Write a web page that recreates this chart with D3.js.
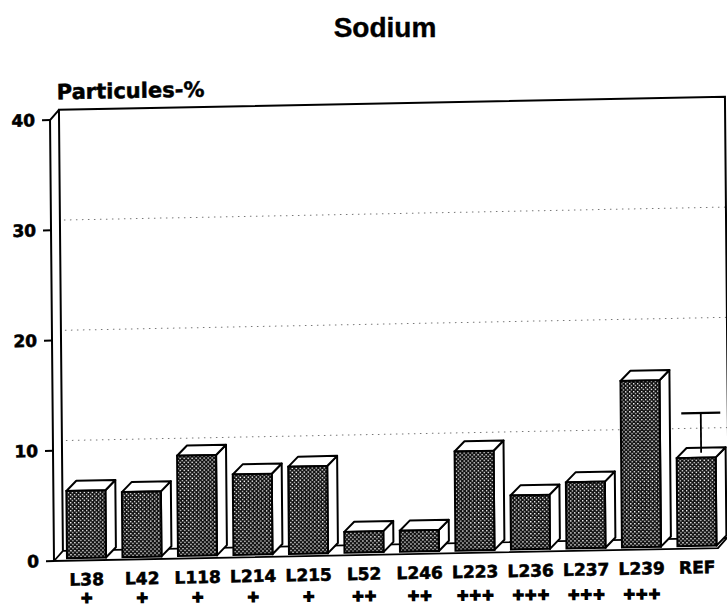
<!DOCTYPE html>
<html>
<head>
<meta charset="utf-8">
<script src="https://cdn.jsdelivr.net/npm/d3@7/dist/d3.min.js"></script>
<style>
  html, body { margin: 0; padding: 0; background: #fff; }
  svg { display: block; }
</style>
</head>
<body>
<svg id="chart" width="727" height="609"></svg>
<script>
// Sodium – share of particles per sample (3-D bar chart)
const categories = ["L38", "L42", "L118", "L214", "L215", "L52", "L246", "L223", "L236", "L237", "L239", "REF"];
const values     = [6.1, 5.9, 9.1, 7.3, 7.9, 1.9, 1.9, 9.0, 4.9, 6.0, 15.1, 8.0];
const grades     = ["+", "+", "+", "+", "+", "++", "++", "+++", "+++", "+++", "+++", ""];
const errorTop   = [null, null, null, null, null, null, null, null, null, null, null, 11.6];
const yTicks     = [0, 10, 20, 30, 40];
const gridValues = [10, 20, 30];
const titleText  = "Sodium";
const yTitle     = "Particules-%";

const svg = d3.select("#chart");

// stipple fill for the bar fronts
const defs = svg.append("defs");
const pat = defs.append("pattern")
  .attr("id", "stipple").attr("patternUnits", "userSpaceOnUse")
  .attr("width", 4).attr("height", 4);
pat.append("rect").attr("width", 4).attr("height", 4).attr("fill", "#111");
pat.append("rect").attr("x", 0.4).attr("y", 0.4).attr("width", 1.3).attr("height", 1.3).attr("fill", "#fff");
pat.append("rect").attr("x", 2.4).attr("y", 2.4).attr("width", 1.3).attr("height", 1.3).attr("fill", "#fff");

// title
svg.append("text")
  .attr("x", 385).attr("y", 37)
  .attr("text-anchor", "middle")
  .attr("font-family", "Liberation Sans, Arial, sans-serif")
  .attr("font-weight", "bold").attr("font-size", 28)
  .attr("stroke", "#000").attr("stroke-width", 0.4)
  .text(titleText);

// scales
const axisX = 54;
const x = d3.scaleBand().domain(categories).range([67, 716.5]).paddingInner(0.297).paddingOuter(0);
const y = d3.scaleLinear().domain([0, 40]).range([561, 120]);
const wall = { dx: 9, dy: -10 };
const bar = { dx: 10, dy: -10 };
const inset = 2.5;
const rightEdge = 729;

// the printed page sits slightly askew
const g = svg.append("g")
  .attr("transform", `translate(${axisX},${y(0)}) matrix(1,-0.0195,0.009,1,0,0) translate(${-axisX},${-y(0)})`);

const line = (pts) => "M" + pts.map(p => p.join(",")).join("L");

// back wall gridlines
g.append("g").selectAll("path").data(gridValues).join("path")
  .attr("d", v => line([[axisX + wall.dx + 4, y(v) + wall.dy], [rightEdge, y(v) + wall.dy]]))
  .attr("stroke", "#777").attr("stroke-width", 1)
  .attr("stroke-dasharray", "1.5,4.5").attr("fill", "none");

// back wall frame
g.append("path")
  .attr("d", line([
    [axisX + wall.dx, y(0) + wall.dy],
    [axisX + wall.dx, y(40) + wall.dy],
    [rightEdge, y(40) + wall.dy],
    [rightEdge, y(0) + wall.dy]
  ]))
  .attr("fill", "none").attr("stroke", "#000").attr("stroke-width", 2);

// front axis and its corner
g.append("path")
  .attr("d", line([[axisX, y(0)], [axisX, y(40)], [axisX + wall.dx, y(40) + wall.dy]]))
  .attr("fill", "none").attr("stroke", "#000").attr("stroke-width", 2);

// floor
const floorRight = x.range()[1] + 1.5;
g.append("path")
  .attr("d", line([
    [axisX, y(0)], [axisX + wall.dx, y(0) + wall.dy],
    [floorRight + wall.dx, y(0) + wall.dy], [floorRight, y(0)]
  ]) + "Z")
  .attr("fill", "#fff").attr("stroke", "#000").attr("stroke-width", 1.8);

// ticks and tick labels
const ticks = g.append("g");
ticks.selectAll("path").data(yTicks).join("path")
  .attr("d", v => line([[axisX - 8, y(v)], [axisX, y(v)]]))
  .attr("stroke", "#000").attr("stroke-width", 2);
ticks.selectAll("text").data(yTicks).join("text")
  .attr("x", 39).attr("y", v => y(v) + 6)
  .attr("text-anchor", "end")
  .attr("font-family", "DejaVu Sans, sans-serif")
  .attr("font-weight", "bold").attr("font-size", 17)
  .attr("stroke", "#000").attr("stroke-width", 0.6)
  .text(d => d);

// axis title
g.append("text")
  .attr("x", 61).attr("y", 99.5)
  .attr("font-family", "DejaVu Sans, sans-serif")
  .attr("font-weight", "bold").attr("font-size", 21)
  .attr("stroke", "#000").attr("stroke-width", 0.5)
  .text(yTitle);

// bars
const bw = x.bandwidth();
const rows = categories.map((c, i) => ({ c, v: values[i], e: errorTop[i] }));
const bars = g.append("g").selectAll("g").data(rows).join("g");
bars.each(function (d) {
  const sel = d3.select(this);
  const x0 = x(d.c), x1 = x0 + bw;
  const yb = y(0) - inset, yt = y(d.v) - inset;
  sel.append("path")
    .attr("d", line([[x1, yt], [x1 + bar.dx, yt + bar.dy], [x1 + bar.dx, yb + bar.dy], [x1, yb]]) + "Z")
    .attr("fill", "#fff").attr("stroke", "#000").attr("stroke-width", 2).attr("stroke-linejoin", "round");
  sel.append("path")
    .attr("d", line([[x0, yt], [x0 + bar.dx, yt + bar.dy], [x1 + bar.dx, yt + bar.dy], [x1, yt]]) + "Z")
    .attr("fill", "#fff").attr("stroke", "#000").attr("stroke-width", 2).attr("stroke-linejoin", "round");
  sel.append("rect")
    .attr("x", x0).attr("y", yt).attr("width", bw).attr("height", yb - yt)
    .attr("fill", "url(#stipple)").attr("stroke", "#000").attr("stroke-width", 2);
  if (d.e != null) {
    const cx = x0 + bw / 2 + bar.dx / 2;
    const ye = y(d.e) - inset + bar.dy / 2;
    sel.append("path")
      .attr("d", line([[cx, yt + bar.dy / 2], [cx, ye]]))
      .attr("stroke", "#000").attr("stroke-width", 1.8);
    sel.append("path")
      .attr("d", line([[cx - bw / 2, ye], [cx + bw / 2, ye]]))
      .attr("stroke", "#000").attr("stroke-width", 2.2);
  }
});

// category labels
g.append("g").selectAll("text").data(categories).join("text")
  .attr("x", c => x(c) + bw / 2).attr("y", 586)
  .attr("text-anchor", "middle")
  .attr("font-family", "DejaVu Sans, sans-serif")
  .attr("font-weight", "bold").attr("font-size", 17)
  .attr("stroke", "#000").attr("stroke-width", 0.6)
  .text(c => c);

// grade markers under the labels
const g2 = svg.append("g")
  .attr("transform", `translate(${axisX},${y(0)}) matrix(1,-0.007,0.009,1,0,0) translate(${-axisX},${-y(0)})`);
g2.selectAll("text").data(categories).join("text")
  .attr("x", c => x(c) + bw / 2).attr("y", 603)
  .attr("text-anchor", "middle")
  .attr("font-family", "DejaVu Sans, sans-serif")
  .attr("font-weight", "bold").attr("font-size", 15)
  .attr("stroke", "#000").attr("stroke-width", 1.6)
  .attr("letter-spacing", 0)
  .text((c, i) => grades[i]);
</script>
</body>
</html>
